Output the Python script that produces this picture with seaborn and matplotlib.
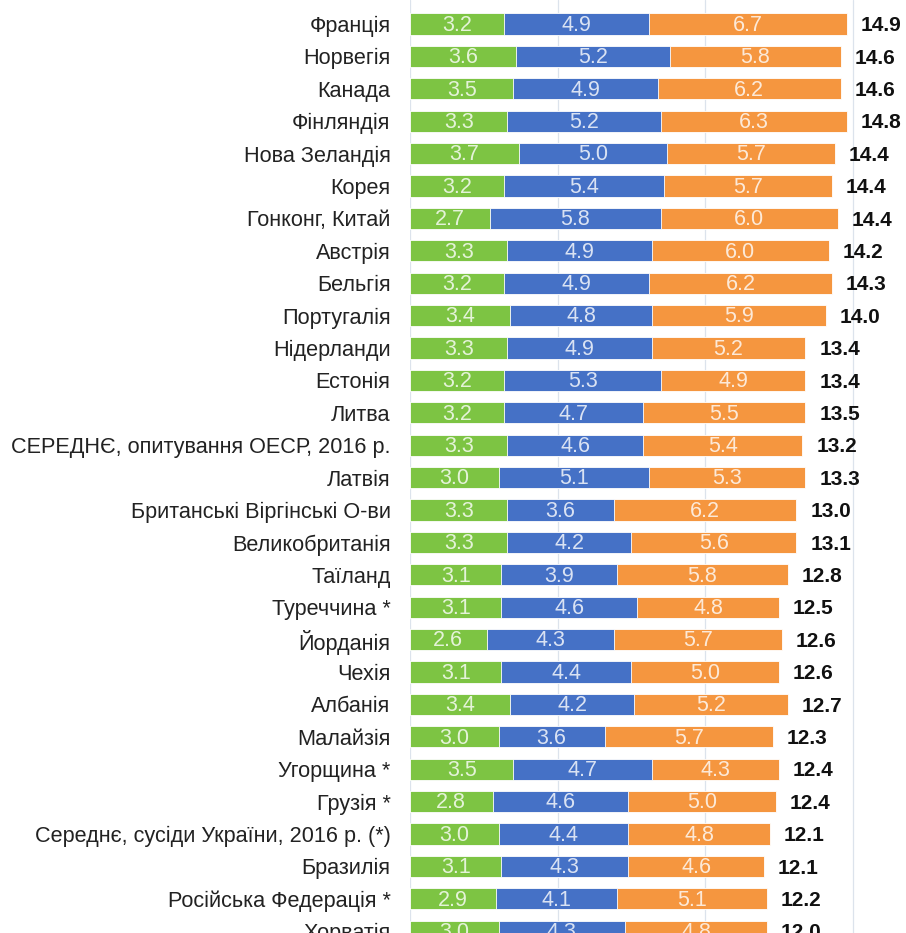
import matplotlib
matplotlib.use("Agg")
import matplotlib.pyplot as plt
import seaborn as sns
import pandas as pd
import numpy as np

categories = ["Франція", "Норвегія", "Канада", "Фінляндія", "Нова Зеландія", "Корея",
              "Гонконг, Китай", "Австрія", "Бельгія", "Португалія", "Нідерланди", "Естонія",
              "Литва", "СЕРЕДНЄ, опитування ОЕСР, 2016 р.", "Латвія", "Британські Віргінські О-ви",
              "Великобританія", "Таїланд", "Туреччина *", "Йорданія", "Чехія", "Албанія",
              "Малайзія", "Угорщина *", "Грузія *", "Середнє, сусіди України, 2016 р. (*)",
              "Бразилія", "Російська Федерація *", "Хорватія"]
green = [3.2, 3.6, 3.5, 3.3, 3.7, 3.2, 2.7, 3.3, 3.2, 3.4, 3.3, 3.2, 3.2, 3.3, 3.0, 3.3,
         3.3, 3.1, 3.1, 2.6, 3.1, 3.4, 3.0, 3.5, 2.8, 3.0, 3.1, 2.9, 3.0]
blue = [4.9, 5.2, 4.9, 5.2, 5.0, 5.4, 5.8, 4.9, 4.9, 4.8, 4.9, 5.3, 4.7, 4.6, 5.1, 3.6,
        4.2, 3.9, 4.6, 4.3, 4.4, 4.2, 3.6, 4.7, 4.6, 4.4, 4.3, 4.1, 4.3]
orange = [6.7, 5.8, 6.2, 6.3, 5.7, 5.7, 6.0, 6.0, 6.2, 5.9, 5.2, 4.9, 5.5, 5.4, 5.3, 6.2,
          5.6, 5.8, 4.8, 5.7, 5.0, 5.2, 5.7, 4.3, 5.0, 4.8, 4.6, 5.1, 4.8]
totals = ["14.9", "14.6", "14.6", "14.8", "14.4", "14.4", "14.4", "14.2", "14.3", "14.0",
          "13.4", "13.4", "13.5", "13.2", "13.3", "13.0", "13.1", "12.8", "12.5", "12.6",
          "12.6", "12.7", "12.3", "12.4", "12.4", "12.1", "12.1", "12.2", "12.0"]

C_GREEN = "#7DC443"
C_BLUE = "#4571C6"
C_ORANGE = "#F5963F"

df = pd.DataFrame({"cat": categories, "g": green, "b": blue, "o": orange})
df["gb"] = df["g"] + df["b"]
df["gbo"] = df["gb"] + df["o"]

sns.set_theme(style="white")
plt.rcParams["font.family"] = ["Liberation Sans", "DejaVu Sans"]

fig = plt.figure(figsize=(9.06, 9.33), dpi=100)
ax = fig.add_axes([410 / 906, 0, 1 - 410 / 906, 1])

common = dict(y="cat", orient="h", order=categories, width=0.65, ax=ax,
              edgecolor="white", linewidth=0.6, saturation=1)
sns.barplot(data=df, x="gbo", color=C_ORANGE, **common)
sns.barplot(data=df, x="gb", color=C_BLUE, **common)
sns.barplot(data=df, x="g", color=C_GREEN, **common)

px = 29.5
ax.set_xlim(0, (906 - 410) / px)
top = -24 / 32.4
ax.set_ylim(top + 933 / 32.4, top)

for xv in [0, 5, 10, 15]:
    ax.axvline(xv, color="#DCE3EC", lw=0.9, zorder=0)

for i in range(len(categories)):
    g, b, o = green[i], blue[i], orange[i]
    for center, val in [(g / 2, g), (g + b / 2, b), (g + b + o / 2, o)]:
        ax.text(center, i + 0.04, f"{val:.1f}", ha="center", va="center",
                color="white", alpha=0.8, fontsize=15.5)
    ax.annotate(totals[i], xy=(g + b + o, i + 0.05), xytext=(10, 0), textcoords="offset points",
                ha="left", va="center", fontsize=15, fontweight="bold", color="#111111")

ax.set_xlabel("")
ax.set_ylabel("")
ax.set_xticks([])
ax.tick_params(axis="y", length=0, pad=14, labelsize=15.6, labelcolor="#222222")
for s in ax.spines.values():
    s.set_visible(False)

fig.savefig("out.png", dpi=100)
